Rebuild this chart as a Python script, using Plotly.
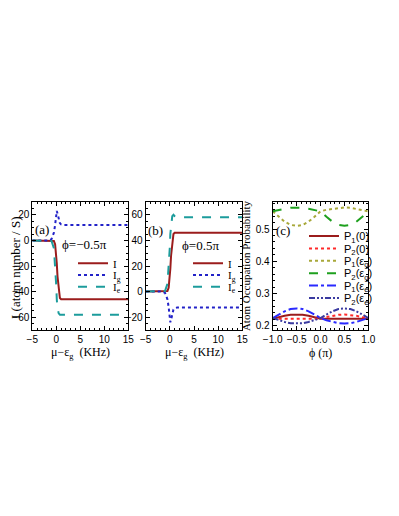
import plotly.graph_objects as go

# panel (a): phi = -0.5 pi
x_a = [-5, -1.5, -1, -0.5, -0.25, 0, 0.1, 0.25, 0.5, 0.75, 1, 1.5, 15]
I_a = [0, 0, 0, -0.5, -3, -12, -18, -28, -40, -45, -46, -46, -46]
Ig_a = [0, 0, 1, 6, 12, 20, 23, 21, 16, 13.5, 12.5, 12, 12]
Ie_a = [0, 0, -0.5, -6, -18, -36, -46, -53, -57, -58, -58, -58, -58]

# panel (b): phi = 0.5 pi
x_b = [-5, -1.5, -1, -0.5, -0.25, 0, 0.1, 0.25, 0.5, 0.75, 1, 1.5, 15]
I_b = [0, 0, 0, 0.5, 3, 12, 18, 28, 40, 45, 46, 46, 46]
Ig_b = [0, 0, -1, -6, -12, -20, -24, -22, -17, -14, -13, -12.5, -12.5]
Ie_b = [0, 0, 0.5, 6, 18, 35, 45, 53, 59, 60, 59, 58, 58]

# panel (c): occupation probabilities vs phi
phi = [-1, -0.875, -0.75, -0.625, -0.5, -0.375, -0.25, -0.125, 0,
       0.125, 0.25, 0.375, 0.5, 0.625, 0.75, 0.875, 1]
P1_0 = [0.222, 0.227, 0.231, 0.234, 0.235, 0.234, 0.231, 0.227, 0.222,
        0.222, 0.222, 0.221, 0.221, 0.221, 0.222, 0.222, 0.222]
P2_0 = [0.222, 0.222, 0.222, 0.221, 0.221, 0.221, 0.222, 0.222, 0.222,
        0.227, 0.231, 0.234, 0.235, 0.234, 0.231, 0.227, 0.222]
P1_g = [0.555, 0.538, 0.523, 0.513, 0.510, 0.513, 0.523, 0.538, 0.555,
        0.560, 0.563, 0.566, 0.567, 0.566, 0.563, 0.560, 0.555]
P2_g = [0.555, 0.560, 0.563, 0.566, 0.567, 0.566, 0.563, 0.560, 0.555,
        0.538, 0.523, 0.513, 0.510, 0.513, 0.523, 0.538, 0.555]
P1_e = [0.224, 0.235, 0.245, 0.252, 0.254, 0.252, 0.245, 0.235, 0.224,
        0.217, 0.212, 0.208, 0.207, 0.208, 0.212, 0.217, 0.224]
P2_e = [0.224, 0.217, 0.212, 0.208, 0.207, 0.208, 0.212, 0.217, 0.224,
        0.235, 0.245, 0.252, 0.254, 0.252, 0.245, 0.235, 0.224]

# the page body adds an 8px margin, so the figure is a bit smaller than the window
PAD = 8
W, H = 399 - PAD, 516 - PAD
SERIF = "Liberation Serif"
SANS = "Liberation Sans"

DARKRED = "#9b1c1c"
BLUE = "#2222c8"
TEAL = "#1c9c9c"


def py(p):
    # screen pixel row -> paper y
    return 1 - (p - PAD) / H


def px(p):
    return (p - PAD) / W


fig = go.Figure()

traces = [
    # (x, y, name, color, dash, xaxis, yaxis, legend)
    (x_a, I_a, "I", DARKRED, "solid", "x", "y", "legend"),
    (x_a, Ig_a, "I<sub>g</sub>", BLUE, "dot", "x", "y", "legend2"),
    (x_a, Ie_a, "I<sub>e</sub>", TEAL, "dash", "x", "y", "legend3"),
    (x_b, I_b, "I", DARKRED, "solid", "x2", "y2", "legend4"),
    (x_b, Ig_b, "I<sub>g</sub>", BLUE, "dot", "x2", "y2", "legend5"),
    (x_b, Ie_b, "I<sub>e</sub>", TEAL, "dash", "x2", "y2", "legend6"),
    (phi, P1_0, "P<sub>1</sub>(0)", DARKRED, "solid", "x3", "y3", "legend7"),
    (phi, P2_0, "P<sub>2</sub>(0)", "#ff2a2a", "dot", "x3", "y3", "legend8"),
    (phi, P1_g, "P<sub>1</sub>(ε<sub>g</sub>)", "#a8a83a", "dot", "x3", "y3", "legend9"),
    (phi, P2_g, "P<sub>2</sub>(ε<sub>g</sub>)", "#1ea01e", "dash", "x3", "y3", "legend10"),
    (phi, P1_e, "P<sub>1</sub>(ε<sub>e</sub>)", "#2a2aff", "dashdot", "x3", "y3", "legend11"),
    (phi, P2_e, "P<sub>2</sub>(ε<sub>e</sub>)", "#3a3aa0", "6px,2px,2px,2px,2px,2px", "x3", "y3", "legend12"),
]

for x, y, name, color, dash, xa, ya, lg in traces:
    fig.add_trace(go.Scatter(
        x=x, y=y, mode="lines", name=name,
        line=dict(color=color, width=2, dash=dash),
        xaxis=xa, yaxis=ya, legend=lg,
    ))

axis_common = dict(
    showline=True, linecolor="black", linewidth=1, mirror="ticks",
    ticks="inside", ticklen=4, tickwidth=1, tickcolor="black",
    showgrid=False, zeroline=False,
    tickfont=dict(family=SANS, size=10, color="black"),
    minor=dict(ticks="inside", ticklen=2, tickcolor="black"),
)

ytop, ybot = py(202), py(330)
fig.update_layout(
    width=W, height=H,
    margin=dict(l=0, r=0, t=0, b=0, autoexpand=False),
    paper_bgcolor="white", plot_bgcolor="white",
    showlegend=True,
    xaxis=dict(axis_common, domain=[px(32.3), px(128.3)], range=[-5, 15],
               tickvals=[-5, 0, 5, 10, 15], anchor="y"),
    yaxis=dict(axis_common, domain=[ybot, ytop], range=[-70, 30],
               tickvals=[-60, -40, -20, 0, 20], anchor="x"),
    xaxis2=dict(axis_common, domain=[px(145.7), px(242.3)], range=[-5, 15],
                tickvals=[-5, 0, 5, 10, 15], anchor="y2"),
    yaxis2=dict(axis_common, domain=[ybot, ytop], range=[-30, 70],
                tickvals=[-20, 0, 20, 40, 60], anchor="x2"),
    xaxis3=dict(axis_common, domain=[px(272.7), px(368.3)], range=[-1, 1],
                tickvals=[-1, -0.5, 0, 0.5, 1], tickformat=".1f", anchor="y3"),
    yaxis3=dict(axis_common, domain=[ybot, ytop], range=[0.187, 0.584],
                tickvals=[0.2, 0.3, 0.4, 0.5], tickformat=".1f", anchor="x3",
                title=dict(text="Atom Occupation Probability", font=dict(family=SERIF, size=11, color="black"), standoff=2)),
)

# one legend per entry so rows can sit as tightly as in the original
legend_rows = {
    "legend": (73, 263.3), "legend2": (73, 275), "legend3": (73, 286.7),
    "legend4": (188, 263.3), "legend5": (188, 275), "legend6": (188, 286.7),
    "legend7": (304, 236), "legend8": (304, 248.4), "legend9": (304, 260.8),
    "legend10": (304, 273.2), "legend11": (304, 285.6), "legend12": (304, 298),
}
for key, (lx, ly) in legend_rows.items():
    fam = SANS if int(key[6:] or 1) >= 7 else SERIF
    fig.update_layout({key: dict(
        x=px(lx), y=py(ly), xanchor="left", yanchor="middle",
        bgcolor="rgba(0,0,0,0)", borderwidth=0, itemwidth=30,
        font=dict(family=fam, size=11, color="black"),
    )})

labels = [
    ("(a)", "x", "y", -2.9, 8.5, SERIF, 13),
    ("ϕ=−0.5π", "x", "y", 5.9, -3, SERIF, 13),
    ("(b)", "x2", "y2", -2.9, 48, SERIF, 13),
    ("ϕ=0.5π", "x2", "y2", 6.3, 36, SERIF, 13),
    ("(c)", "x3", "y3", -0.785, 0.496, SERIF, 13),
]
for text, xr, yr, x, y, fam, size in labels:
    fig.add_annotation(text=text, xref=xr, yref=yr, x=x, y=y, showarrow=False,
                       font=dict(family=fam, size=size, color="black"))

# axis titles placed as annotations so they can sit where the original has them
titles = [
    ("μ−ε<sub>g</sub>  (KHz)", 80.5, 353, 0, 12),
    ("μ−ε<sub>g</sub>  (KHz)", 194, 353, 0, 12),
    ("ϕ (π)", 320.5, 353, 0, 12),
    ("I (atom number / S)", 15, 268, -90, 13),
]
for text, tx, ty, ang, size in titles:
    fig.add_annotation(text=text, xref="paper", yref="paper", x=px(tx), y=py(ty),
                       xanchor="center", yanchor="middle", textangle=ang, showarrow=False,
                       font=dict(family=SERIF, size=size, color="black"))

fig.write_html("out.html")
